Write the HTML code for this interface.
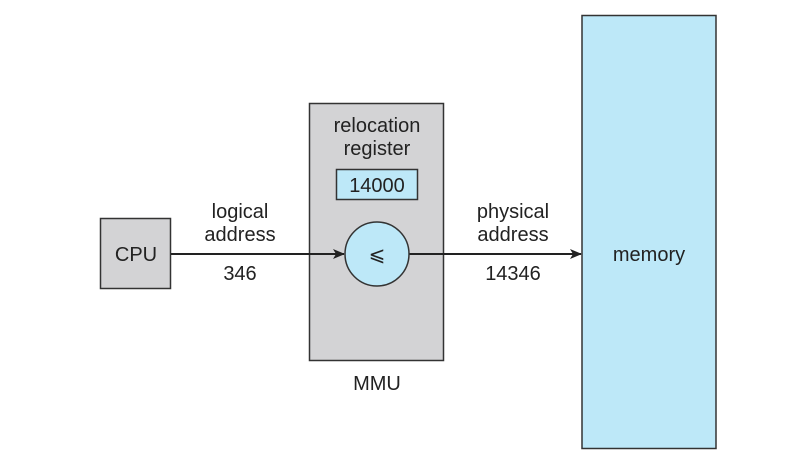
<!DOCTYPE html>
<html><head><style>
html,body{margin:0;padding:0;background:#fff;}
</style></head><body>
<svg width="788" height="462" viewBox="0 0 788 462" xmlns="http://www.w3.org/2000/svg" style="display:block">
<defs><marker id="a" markerWidth="12" markerHeight="10" refX="11" refY="5" orient="auto" markerUnits="userSpaceOnUse"><path d="M0,0 L12,5 L0,10 L3,5 Z" fill="#222"/></marker></defs>
<g font-family="Liberation Sans, sans-serif" font-size="20" fill="#222" text-anchor="middle">
<rect x="582" y="15.5" width="134" height="433" fill="#bde8f8" stroke="#333" stroke-width="1.5"/>
<text x="649" y="261">memory</text>
<rect x="309.5" y="103.5" width="134" height="257" fill="#d3d3d5" stroke="#333" stroke-width="1.5"/>
<text x="377" y="132">relocation</text>
<text x="377" y="155">register</text>
<rect x="336.5" y="169.5" width="81" height="30" fill="#bde8f8" stroke="#333" stroke-width="1.5"/>
<text x="377" y="192">14000</text>
<rect x="100.5" y="218.5" width="70" height="70" fill="#d3d3d5" stroke="#333" stroke-width="1.5"/>
<text x="136" y="261">CPU</text>
<line x1="171" y1="254" x2="344" y2="254" stroke="#222" stroke-width="2" marker-end="url(#a)"/>
<line x1="409" y1="254" x2="581" y2="254" stroke="#222" stroke-width="2" marker-end="url(#a)"/>
<circle cx="377" cy="254" r="32" fill="#bde8f8" stroke="#333" stroke-width="1.5"/>
<text x="377" y="261" font-size="20">⩽</text>
<text x="240" y="218">logical</text>
<text x="240" y="241">address</text>
<text x="240" y="280">346</text>
<text x="513" y="218">physical</text>
<text x="513" y="241">address</text>
<text x="513" y="280">14346</text>
<text x="377" y="390">MMU</text>
</g>
</svg>
</body></html>
